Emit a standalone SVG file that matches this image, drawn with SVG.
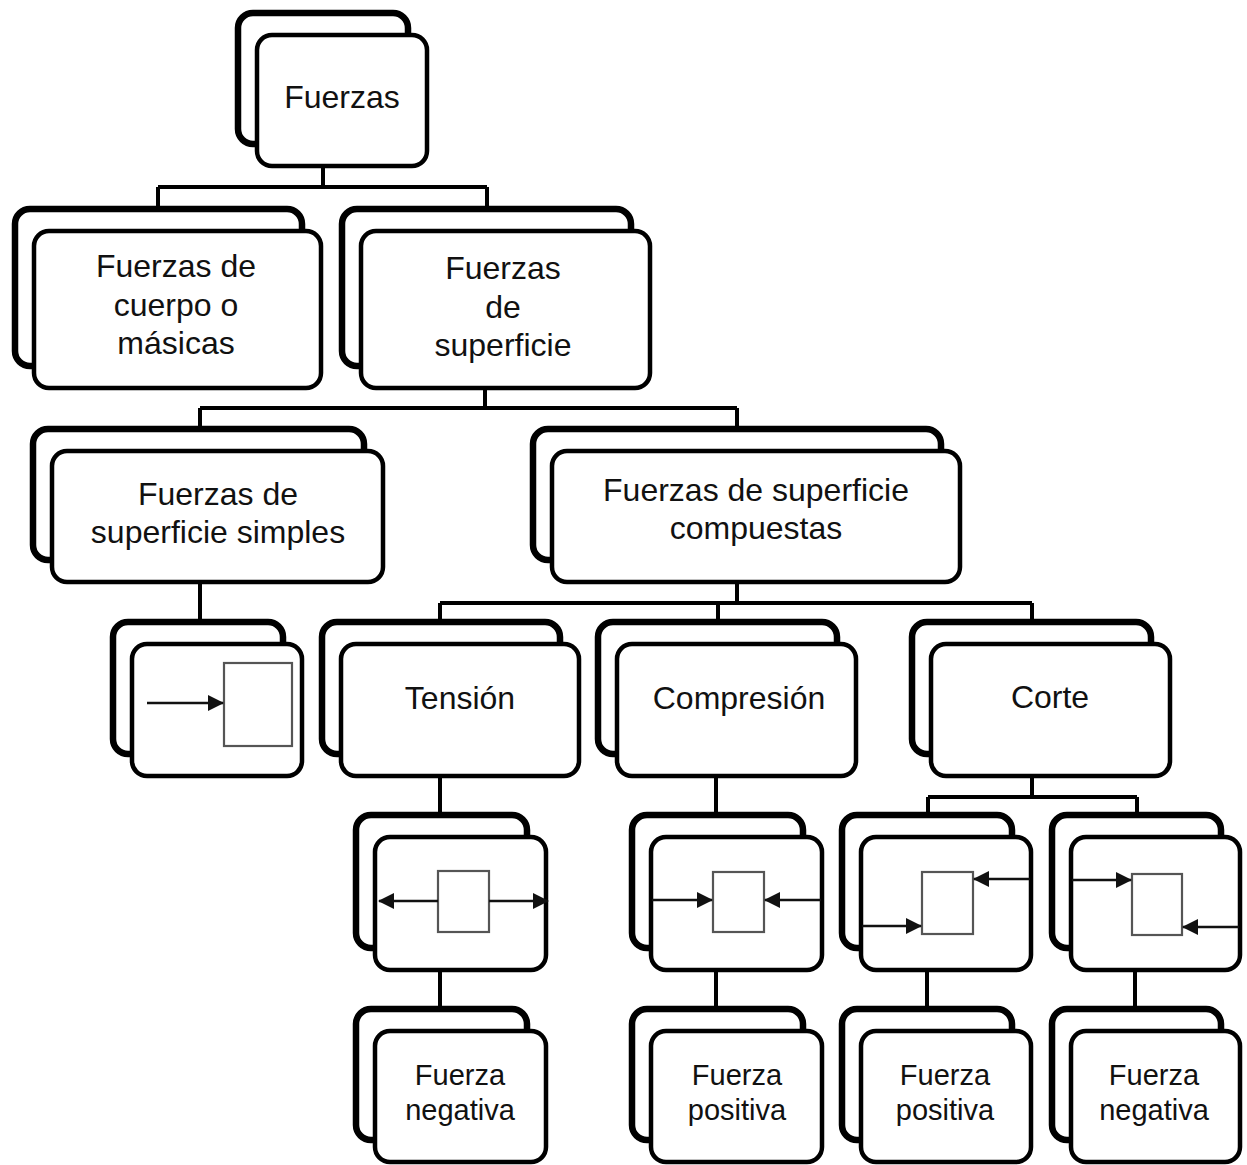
<svg xmlns="http://www.w3.org/2000/svg" width="1247" height="1165" viewBox="0 0 1247 1165">
<style>
.back{fill:#fff;stroke:#000;stroke-width:6.5}
.front{fill:#fff;stroke:#000;stroke-width:4.5}
.conn{fill:none;stroke:#000;stroke-width:4}
.t{font-family:"Liberation Sans",Arial,sans-serif;font-size:32px;fill:#111;text-anchor:middle}
.s{font-family:"Liberation Sans",Arial,sans-serif;font-size:29px;fill:#111;text-anchor:middle}
.sq{fill:#fff;stroke:#555;stroke-width:2.2}
.ar{fill:none;stroke:#111;stroke-width:2.5;marker-end:url(#ah)}
</style>
<defs>
<marker id="ah" markerWidth="16" markerHeight="16" refX="15" refY="8" orient="auto" markerUnits="userSpaceOnUse">
<path d="M0,0 L16,8 L0,16 z" fill="#111"/>
</marker>
</defs>
<rect width="1247" height="1165" fill="#fff"/>
<g id="connectors">
<path class="conn" d="M323,166 V187 M158,187 H487 M158,187 V209 M487,187 V209"/>
<path class="conn" d="M485,388 V408 M200,408 H737 M200,408 V429 M737,408 V429"/>
<path class="conn" d="M200,582 V622"/>
<path class="conn" d="M737,582 V603 M440,603 H1032 M440,603 V622 M718,603 V622 M1032,603 V622"/>
<path class="conn" d="M440,776 V815 M716,776 V815 M1032,776 V797 M928,797 H1137 M928,797 V815 M1137,797 V815"/>
<path class="conn" d="M440,970 V1009 M716,970 V1009 M927,970 V1009 M1135,970 V1009"/>
</g>
<g id="n-fuerzas">
<rect class="back" x="238" y="13" width="170" height="131" rx="15"/>
<rect class="front" x="257" y="35" width="170" height="131" rx="15"/>
<text class="t" x="342" y="108">Fuerzas</text>
</g>
<g id="n-cuerpo">
<rect class="back" x="15" y="209" width="287" height="157" rx="15"/>
<rect class="front" x="34" y="231" width="287" height="157" rx="15"/>
<text class="t" x="176" y="277">Fuerzas de</text>
<text class="t" x="176" y="316">cuerpo o</text>
<text class="t" x="176" y="354">másicas</text>
</g>
<g id="n-superficie">
<rect class="back" x="342" y="209" width="289" height="157" rx="15"/>
<rect class="front" x="361" y="231" width="289" height="157" rx="15"/>
<text class="t" x="503" y="279">Fuerzas</text>
<text class="t" x="503" y="318">de</text>
<text class="t" x="503" y="356">superficie</text>
</g>
<g id="n-simples">
<rect class="back" x="33" y="429" width="331" height="131" rx="15"/>
<rect class="front" x="52" y="451" width="331" height="131" rx="15"/>
<text class="t" x="218" y="505">Fuerzas de</text>
<text class="t" x="218" y="543">superficie simples</text>
</g>
<g id="n-compuestas">
<rect class="back" x="533" y="429" width="408" height="131" rx="15"/>
<rect class="front" x="552" y="451" width="408" height="131" rx="15"/>
<text class="t" x="756" y="501">Fuerzas de superficie</text>
<text class="t" x="756" y="539">compuestas</text>
</g>
<g id="n-simple-diagram">
<rect class="back" x="113" y="622" width="170" height="132" rx="15"/>
<rect class="front" x="132" y="644" width="170" height="132" rx="15"/>
<rect class="sq" x="224" y="663" width="68" height="83"/>
<line class="ar" x1="147" y1="703" x2="223" y2="703"/>
</g>
<g id="n-tension">
<rect class="back" x="322" y="622" width="238" height="132" rx="15"/>
<rect class="front" x="341" y="644" width="238" height="132" rx="15"/>
<text class="t" x="460" y="709">Tensión</text>
</g>
<g id="n-compresion">
<rect class="back" x="598" y="622" width="239" height="132" rx="15"/>
<rect class="front" x="617" y="644" width="239" height="132" rx="15"/>
<text class="t" x="739" y="709">Compresión</text>
</g>
<g id="n-corte">
<rect class="back" x="912" y="622" width="239" height="132" rx="15"/>
<rect class="front" x="931" y="644" width="239" height="132" rx="15"/>
<text class="t" x="1050" y="708">Corte</text>
</g>
<g id="n-tension-diagram">
<rect class="back" x="356" y="815" width="171" height="133" rx="15"/>
<rect class="front" x="375" y="837" width="171" height="133" rx="15"/>
<rect class="sq" x="438" y="871" width="51" height="61"/>
<line class="ar" x1="438" y1="901" x2="379" y2="901"/>
<line class="ar" x1="489" y1="901" x2="548" y2="901"/>
</g>
<g id="n-compresion-diagram">
<rect class="back" x="632" y="815" width="171" height="133" rx="15"/>
<rect class="front" x="651" y="837" width="171" height="133" rx="15"/>
<rect class="sq" x="713" y="872" width="51" height="60"/>
<line class="ar" x1="652" y1="900" x2="712" y2="900"/>
<line class="ar" x1="821" y1="900" x2="765" y2="900"/>
</g>
<g id="n-corte-left-diagram">
<rect class="back" x="842" y="815" width="170" height="133" rx="15"/>
<rect class="front" x="861" y="837" width="170" height="133" rx="15"/>
<rect class="sq" x="922" y="872" width="51" height="62"/>
<line class="ar" x1="1030" y1="879" x2="974" y2="879"/>
<line class="ar" x1="862" y1="926" x2="921" y2="926"/>
</g>
<g id="n-corte-right-diagram">
<rect class="back" x="1052" y="815" width="169" height="133" rx="15"/>
<rect class="front" x="1071" y="837" width="169" height="133" rx="15"/>
<rect class="sq" x="1132" y="874" width="50" height="61"/>
<line class="ar" x1="1072" y1="880" x2="1131" y2="880"/>
<line class="ar" x1="1239" y1="927" x2="1183" y2="927"/>
</g>
<g id="n-neg-1">
<rect class="back" x="356" y="1009" width="171" height="131" rx="15"/>
<rect class="front" x="375" y="1031" width="171" height="131" rx="15"/>
<text class="s" x="460" y="1085">Fuerza</text>
<text class="s" x="460" y="1120">negativa</text>
</g>
<g id="n-pos-1">
<rect class="back" x="632" y="1009" width="171" height="131" rx="15"/>
<rect class="front" x="651" y="1031" width="171" height="131" rx="15"/>
<text class="s" x="737" y="1085">Fuerza</text>
<text class="s" x="737" y="1120">positiva</text>
</g>
<g id="n-pos-2">
<rect class="back" x="842" y="1009" width="170" height="131" rx="15"/>
<rect class="front" x="861" y="1031" width="170" height="131" rx="15"/>
<text class="s" x="945" y="1085">Fuerza</text>
<text class="s" x="945" y="1120">positiva</text>
</g>
<g id="n-neg-2">
<rect class="back" x="1052" y="1009" width="169" height="131" rx="15"/>
<rect class="front" x="1071" y="1031" width="169" height="131" rx="15"/>
<text class="s" x="1154" y="1085">Fuerza</text>
<text class="s" x="1154" y="1120">negativa</text>
</g>
</svg>
